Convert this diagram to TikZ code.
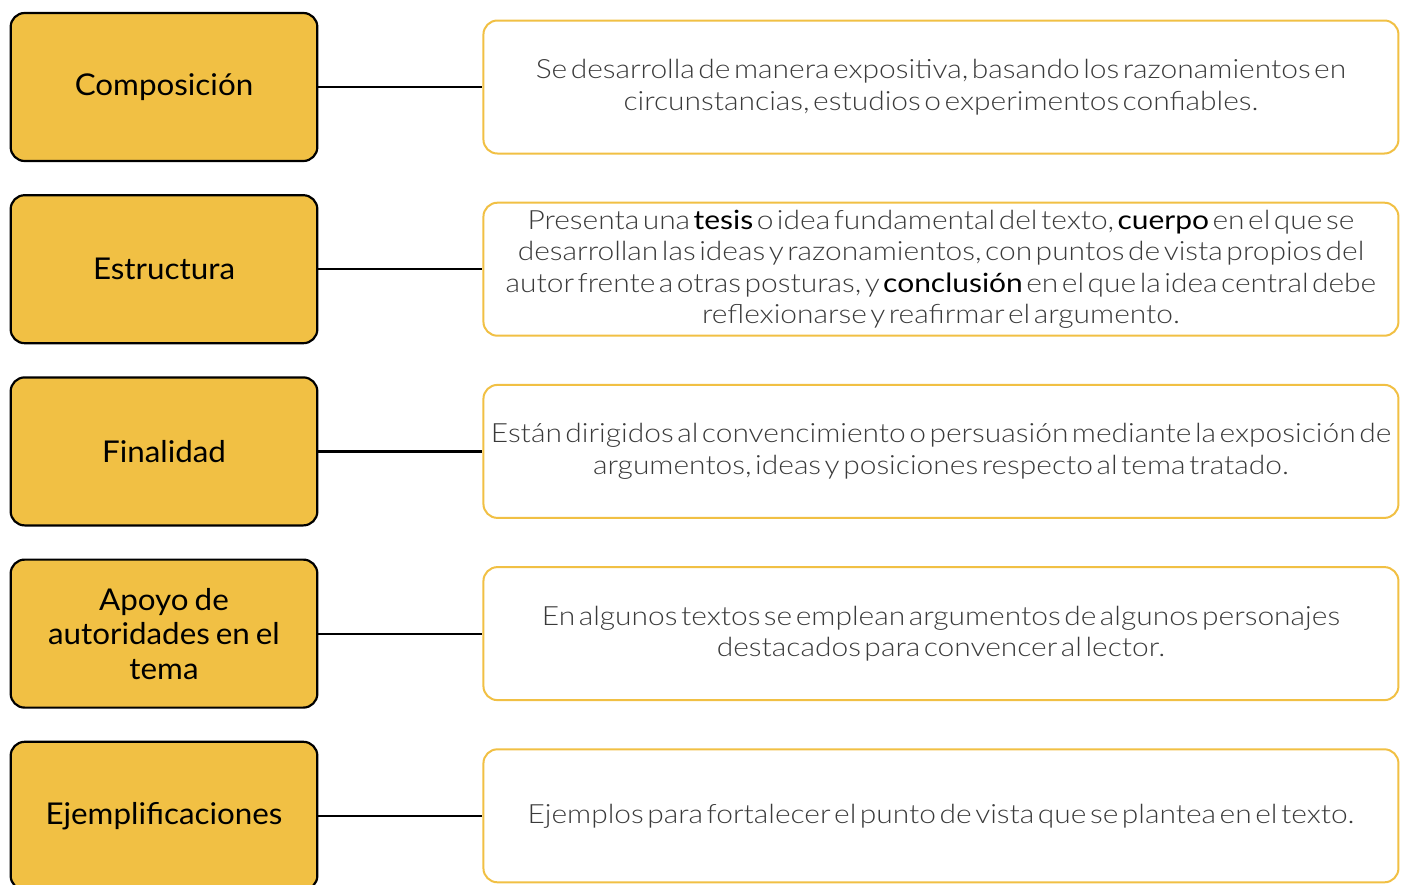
\documentclass[tikz,border=0pt]{standalone}
\usepackage{fontspec}
\setmainfont{Lato Light}[BoldFont=Lato, FakeStretch=1.13]
\newfontfamily\latoreg{Lato}[FakeStretch=1.13]
\newfontfamily\latotema{Lato}[FakeStretch=1.045]
\usetikzlibrary{positioning}
\definecolor{amarillo}{HTML}{F1C044}
\definecolor{gris}{HTML}{3A3A3A}
\newcommand{\resalta}[1]{{\latoreg\color{black}#1}}

\begin{document}
\begin{tikzpicture}[x=1pt, y=-1pt, node distance=32pt and 164pt,
    tema/.style={draw=black, line width=2.2pt, fill=amarillo, rounded corners=14pt,
        minimum width=306pt, minimum height=148pt, text width=300pt, align=center,
        font=\latotema\fontsize{30}{34.5}\selectfont,
        execute at begin node={\spaceskip=6pt\xspaceskip=6pt\relax}},
    desc/.style={draw=amarillo, line width=2pt, fill=white, rounded corners=14pt,
        minimum width=915pt, minimum height=133pt, text width=915pt, align=center,
        inner sep=0pt, text=gris, font=\fontsize{26.5}{31.6}\selectfont,
        execute at begin node={\spaceskip=3.5pt\xspaceskip=3.5pt\relax}}]
    \useasboundingbox (0,0) rectangle (1403,884);

    % temas
    \node[tema] (A) at (164,87) {Composición};
    \node[tema, below=of A] (B) {Estructura};
    \node[tema, below=of B] (C) {Finalidad};
    \node[tema, below=of C] (D) {Apoyo de\\autoridades en el\\tema};
    \node[tema, below=of D] (E) {Ejemplificaciones};

    % descripciones
    \node[desc, right=of A] (dA) {Se desarrolla de manera expositiva, basando los razonamientos en\\circunstancias, estudios o experimentos confiables.};
    \node[desc, right=of B] (dB) {Presenta una \resalta{tesis} o idea fundamental del texto, \resalta{cuerpo} en el que se\\desarrollan las ideas y razonamientos, con puntos de vista propios del\\autor frente a otras posturas, y \resalta{conclusión} en el que la idea central debe\\reflexionarse y reafirmar el argumento.};
    \node[desc, right=of C] (dC) {Están dirigidos al convencimiento o persuasión mediante la exposición de\\argumentos, ideas y posiciones respecto al tema tratado.};
    \node[desc, right=of D] (dD) {En algunos textos se emplean argumentos de algunos personajes\\destacados para convencer al lector.};
    \node[desc, right=of E] (dE) {Ejemplos para fortalecer el punto de vista que se plantea en el texto.};

    \path[every edge/.style={draw, line width=2.2pt}]
    (A) edge (dA)
    (B) edge (dB)
    (C) edge (dC)
    (D) edge (dD)
    (E) edge (dE)
    ;
\end{tikzpicture}
\end{document}
